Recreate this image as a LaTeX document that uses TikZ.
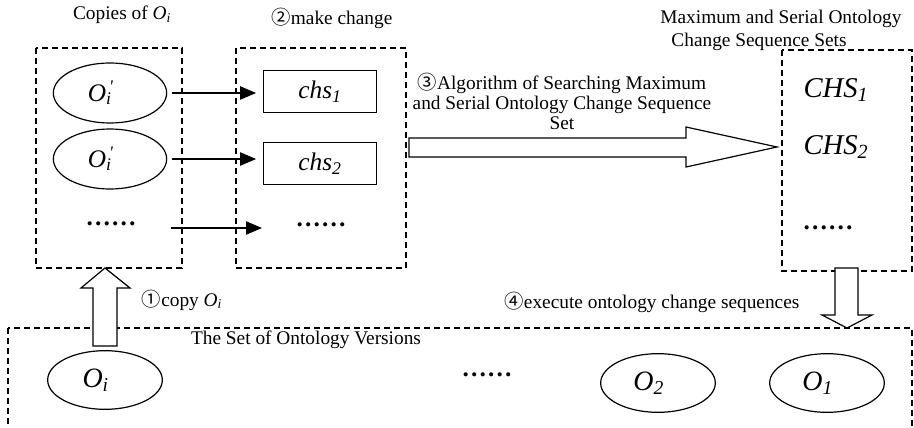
\documentclass[tikz,border=0pt]{standalone}
\usepackage{fontspec}
\setmainfont{Liberation Serif}
\newfontfamily\cjk{Noto Sans CJK SC}
\usetikzlibrary{arrows.meta,shapes.geometric}
\tikzset{
  dashbox/.style={draw, line width=0.9pt, dash pattern=on 4.5pt off 3pt},
  copyell/.style={draw, ellipse, line width=0.9pt, minimum width=85pt, minimum height=45pt, inner sep=0pt, font=\fontsize{19}{21}\selectfont\itshape},
  verell/.style={draw, ellipse, line width=0.9pt, minimum width=86pt, minimum height=44pt, inner sep=0pt, font=\fontsize{21}{23}\selectfont\itshape},
  chsbox/.style={draw, rectangle, line width=0.9pt, minimum width=85pt, minimum height=31pt, inner sep=0pt, font=\fontsize{19}{21}\selectfont\itshape},
  bigchs/.style={inner sep=0pt, font=\fontsize{21.5}{23}\selectfont\itshape},
  dotsnode/.style={inner sep=0pt, font=\fontsize{19}{21}\selectfont\bfseries},
  lbl/.style={inner sep=0pt, font=\fontsize{14.5}{15}\selectfont},
  smarrow/.style={line width=0.9pt, -{Triangle[length=12pt,width=10pt]}},
  blockarrow/.style={draw, line width=0.9pt, fill=white},
}
\newcommand{\circnum}[1]{{\cjk #1}}
\newcommand{\myleftshift}{\kern-14pt}
\begin{document}
\begin{tikzpicture}[x=0.75pt,y=-0.75pt]
\useasboundingbox (0,0) rectangle (914,428);
\begin{scope}
\clip (0,0) rectangle (914,428);
\draw[dashbox] (8,328) rectangle (912,470);
\end{scope}
% dashed boxes
\draw[dashbox] (36,48) rectangle (182,268);
\draw[dashbox] (236,48) rectangle (406,268);
\draw[dashbox] (782,50) rectangle (912,271);
% headings
\node[lbl] (h1) at (122,15) {Copies of \textit{O}\textsubscript{\textit{i}}};
\node[lbl] (h2) at (332,18) {\circnum{②}make change};
\node[lbl, align=center] (h3) at (562,101) {\circnum{③}Algorithm of Searching Maximum\\and Serial Ontology Change Sequence\\Set};
\node[lbl] (h4a) at (781,19) {Maximum and Serial Ontology};
\node[lbl] (h4b) at (759,42) {Change Sequence Sets};
\node[lbl] (h5) at (182,300) {\circnum{①}copy \textit{O}\textsubscript{\textit{i}}};
\node[lbl] (h6) at (652,302) {\circnum{④}execute ontology change sequences};
\node[lbl] (h7) at (306,340) {The Set of Ontology Versions};
% copies
\node[copyell] (e1) at (110,93) {\myleftshift O\rlap{\textsubscript{i}}\textsuperscript{\,\textquotesingle}};
\node[copyell] (e2) at (110,159) {\myleftshift O\rlap{\textsubscript{i}}\textsuperscript{\,\textquotesingle}};
\node[dotsnode] (d1) at (111,224) {……};
% change sequences
\node[chsbox] (c1) at (320,91.5) {chs\textsubscript{1}};
\node[chsbox] (c2) at (320,163.5) {chs\textsubscript{2}};
\node[dotsnode] (d2) at (321,225) {……};
% CHS
\node[bigchs] (C1) at (836,90) {CHS\textsubscript{1}};
\node[bigchs] (C2) at (836,147) {CHS\textsubscript{2}};
\node[dotsnode] (d3) at (828,228) {……};
% versions
\node[verell] (v1) at (105,380) {\myleftshift O\textsubscript{i}};
\node[dotsnode] (d4) at (487,375) {……};
\node[verell] (v3) at (658,383) {\myleftshift O\textsubscript{2}};
\node[verell] (v4) at (827,383) {\myleftshift O\textsubscript{1}};
% small arrows
\coordinate (a3s) at (171,228);
\coordinate (a3e) at (262,228);
\draw[smarrow, shorten <=3.4pt, shorten >=5pt] (e1.east) -- (e1.east -| c1.west);
\draw[smarrow, shorten <=3.4pt, shorten >=5pt] (e2.east) -- (e2.east -| c2.west);
\draw[smarrow] (a3s) -- (a3e);
% block arrows
\draw[blockarrow] (409,138) -- (686,138) -- (686,127) -- (777,147) -- (686,167) -- (686,157) -- (409,157) -- cycle;
\draw[blockarrow] (93,346) -- (93,288) -- (81,288) -- (105,268) -- (130,288) -- (117,288) -- (117,346) -- cycle;
\draw[blockarrow] (835,268) -- (858,268) -- (858,315) -- (872,315) -- (847,328) -- (822,315) -- (835,315) -- cycle;
\end{tikzpicture}
\end{document}
